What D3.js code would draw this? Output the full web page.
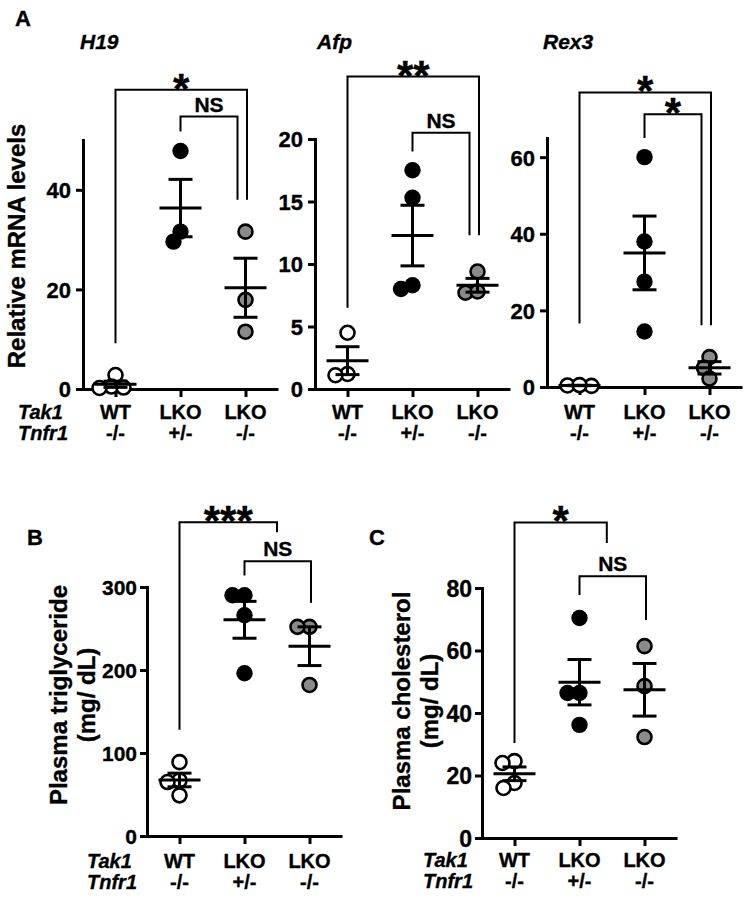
<!DOCTYPE html>
<html><head><meta charset="utf-8">
<script src="https://cdn.jsdelivr.net/npm/d3@7"></script>
<style>
body{margin:0;background:#fff}
svg text{font-family:"Liberation Sans",Arial,Helvetica,sans-serif;font-weight:bold;fill:#000;stroke:#000;stroke-width:0.35px}
</style></head><body>
<svg id="chart" width="751" height="899"></svg>
<script>
// ---------- data ----------
const tak1 = ["WT", "LKO", "LKO"];
const tnfr1 = ["-/-", "+/-", "-/-"];

const h19Values  = [[2.8, 0.5, 0.2, 0.3], [47.8, 31.6, 29.6], [31.6, 17.9, 11.5]];
const afpValues  = [[4.5, 1.2, 1.1], [17.5, 15.3, 8.0, 8.3], [9.4, 7.7, 7.8]];
const rex3Values = [[0.4, 0.3, 0.5], [60, 38, 27.5, 14.5], [7.8, 5.0, 2.2]];
const tgValues   = [[89, 67, 65, 49], [290, 290, 266, 196], [252, 252, 182]];
const cholValues = [[24.6, 24.0, 17.6, 16.0], [70.4, 46.4, 46.4, 36.2], [61.4, 48.6, 32.3]];

const h19Ticks  = [0, 20, 40];
const afpTicks  = [0, 5, 10, 15, 20];
const rex3Ticks = [0, 20, 40, 60];
const tgTicks   = [0, 100, 200, 300];
const cholTicks = [0, 20, 40, 60, 80];

// significance brackets: category indices, bracket level and leg ends in data units
const h19Brackets  = [{from: 0, to: 2, level: 60.1, l: 9.2, r: 38, label: "*"},
                      {from: 1, to: 2, level: 54.7, l: 51.7, r: 38, label: "NS"}];
const afpBrackets  = [{from: 0, to: 2, level: 25.0, l: 6.5, r: 12.3, label: "**"},
                      {from: 1, to: 2, level: 20.5, l: 19.0, r: 12.3, label: "NS"}];
const rex3Brackets = [{from: 0, to: 2, level: 76.9, l: 16.6, r: 16.1, label: "*"},
                      {from: 1, to: 2, level: 71.2, l: 65.0, r: 16.1, label: "*"}];
const tgBrackets   = [{from: 0, to: 1.5, level: 378, l: 128, r: 366, label: "***"},
                      {from: 1, to: 2, level: 331, l: 314, r: 281, label: "NS"}];
const cholBrackets = [{from: 0, to: 1.42, level: 101, l: 30.4, r: 94.4, label: "*"},
                      {from: 1, to: 2, level: 83.8, l: 77.8, r: 69.8, label: "NS"}];

// ---------- layout ----------
const panels = [
  {values: h19Values, ticks: h19Ticks, max: 50, brackets: h19Brackets, ax: 83, top: 140, bottom: 389,
   title: "H19", titleX: 80, tickFont: 22, pad: 5, row1: 419, row2: 440},
  {values: afpValues, ticks: afpTicks, max: 20, brackets: afpBrackets, ax: 315, top: 139, bottom: 389,
   title: "Afp", titleX: 317, tickFont: 22, pad: 5, row1: 419, row2: 440},
  {values: rex3Values, ticks: rex3Ticks, max: 65, brackets: rex3Brackets, ax: 547, top: 138, bottom: 387,
   title: "Rex3", titleX: 543, tickFont: 22, pad: 5, row1: 419, row2: 440},
  {values: tgValues, ticks: tgTicks, max: 300, brackets: tgBrackets, ax: 147, top: 587, bottom: 836,
   tickFont: 21, pad: 3, row1: 868, row2: 889},
  {values: cholValues, ticks: cholTicks, max: 80, brackets: cholBrackets, ax: 482, top: 588, bottom: 838,
   tickFont: 23, pad: 3, row1: 867, row2: 888}
];

const svg = d3.select("#chart");
const W = 195, R = 7, D = 12;
const fills = ["#fff", "#000", "#8a8a8a"];

function swarm(vals, y) {
  const placed = [], out = new Array(vals.length);
  const order = d3.range(vals.length).sort((a, b) => vals[b] - vals[a]);
  for (const i of order) {
    const py = y(vals[i]);
    let dx = 0;
    for (let k = 0; k < 400; k++) {
      const c = k === 0 ? 0 : (k % 2 ? -1 : 1) * Math.ceil(k / 2) * 0.5;
      if (placed.every(p => (p.x - c) ** 2 + (p.y - py) ** 2 >= D * D)) { dx = c; break; }
    }
    placed.push({x: dx, y: py});
    out[i] = dx;
  }
  return out;
}

panels.forEach(p => {
  const g = svg.append("g");
  const x = d3.scalePoint().domain([0, 1, 2]).range([p.ax, p.ax + W]).padding(0.5);
  const y = d3.scaleLinear().domain([0, p.max]).range([p.bottom, p.top]);
  const catX = i => { const lo = Math.floor(i), hi = Math.ceil(i); return x(lo) + (x(hi) - x(lo)) * (i - lo); };

  // y axis
  const ya = g.append("g").attr("transform", `translate(${p.ax},0)`)
    .call(d3.axisLeft(y).tickValues(p.ticks).tickSize(7).tickSizeOuter(0).tickPadding(p.pad).tickFormat(d3.format("d")));
  ya.select(".domain").attr("stroke", "#000").attr("stroke-width", 3).attr("stroke-linecap", "square");
  ya.selectAll(".tick line").attr("stroke", "#000").attr("stroke-width", 3);
  ya.selectAll(".tick text").attr("font-size", p.tickFont).attr("dy", "0.36em");

  // x axis
  const xa = g.append("g").attr("transform", `translate(0,${p.bottom})`)
    .call(d3.axisBottom(x).tickSize(8).tickSizeOuter(0).tickFormat(""));
  xa.select(".domain").attr("stroke", "#000").attr("stroke-width", 3);
  xa.selectAll(".tick line").attr("stroke", "#000").attr("stroke-width", 3);

  // category labels
  [0, 1, 2].forEach(i => {
    g.append("text").attr("x", x(i)).attr("y", p.row1).attr("text-anchor", "middle").attr("font-size", 20).text(tak1[i]);
    g.append("text").attr("x", x(i)).attr("y", p.row2).attr("text-anchor", "middle").attr("font-size", 20).text(tnfr1[i]);
  });

  if (p.title) {
    g.append("text").attr("x", p.titleX).attr("y", 49).attr("font-size", 21).attr("font-style", "italic").text(p.title);
  }

  // points
  p.values.forEach((vals, gi) => {
    const dxs = swarm(vals, y);
    g.append("g").selectAll("circle").data(vals).join("circle")
      .attr("cx", (d, i) => x(gi) + dxs[i]).attr("cy", d => y(d))
      .attr("r", gi === 1 ? R + 1.2 : R)
      .attr("fill", fills[gi])
      .attr("stroke", gi === 1 ? "none" : "#000").attr("stroke-width", 2.6);
  });

  // mean ± SEM
  p.values.forEach((vals, gi) => {
    const m = d3.mean(vals), se = d3.deviation(vals) / Math.sqrt(vals.length);
    const cx = x(gi);
    const eg = g.append("g").attr("stroke", "#000").attr("stroke-width", 3).attr("fill", "none");
    eg.append("line").attr("x1", cx - 21).attr("x2", cx + 21).attr("y1", y(m)).attr("y2", y(m));
    eg.append("line").attr("x1", cx).attr("x2", cx).attr("y1", y(m - se)).attr("y2", y(m + se));
    eg.append("line").attr("x1", cx - 12).attr("x2", cx + 12).attr("y1", y(m + se)).attr("y2", y(m + se));
    eg.append("line").attr("x1", cx - 12).attr("x2", cx + 12).attr("y1", y(m - se)).attr("y2", y(m - se));
  });

  // brackets
  p.brackets.forEach(b => {
    const inner = p.brackets.some(o => o !== b && o.to === b.to && (o.to - o.from) > (b.to - b.from));
    const xl = catX(b.from), xr = catX(b.to) + (inner ? -8 : (Number.isInteger(b.to) ? 1.5 : 0));
    const ly = y(b.level);
    g.append("path").attr("d", `M${xl},${y(b.l)}V${ly}H${xr}V${y(b.r)}`)
      .attr("fill", "none").attr("stroke", "#000").attr("stroke-width", 2);
    const isStar = b.label.indexOf("*") >= 0;
    g.append("text").attr("x", (xl + xr) / 2).attr("text-anchor", "middle")
      .attr("y", isStar ? ly + 13 : ly - 5)
      .attr("font-size", isStar ? 42 : 21).text(b.label);
  });
});

// panel letters
svg.append("text").attr("x", 15).attr("y", 26).attr("font-size", 22).text("A");
svg.append("text").attr("x", 27).attr("y", 545).attr("font-size", 22).text("B");
svg.append("text").attr("x", 369).attr("y", 545).attr("font-size", 22).text("C");

// row headers
[[18, 419, 440], [87, 868, 889], [423, 867, 888]].forEach(([hx, r1, r2]) => {
  svg.append("text").attr("x", hx).attr("y", r1).attr("font-size", 20).attr("font-style", "italic").text("Tak1");
  svg.append("text").attr("x", hx).attr("y", r2).attr("font-size", 20).attr("font-style", "italic").text("Tnfr1");
});

// y-axis titles
function yTitle(cx, cy, lines, gap) {
  const t = svg.append("text").attr("transform", `translate(${cx},${cy}) rotate(-90)`)
    .attr("text-anchor", "middle").attr("font-size", 24);
  lines.forEach((s, i) => t.append("tspan").attr("x", 0).attr("dy", i === 0 ? 0 : gap).text(s));
}
yTitle(25, 246, ["Relative mRNA levels"], 0);
yTitle(67, 695, ["Plasma triglyceride", "(mg/ dL)"], 28);
yTitle(410, 701, ["Plasma cholesterol", "(mg/ dL)"], 28);
</script>
</body></html>
